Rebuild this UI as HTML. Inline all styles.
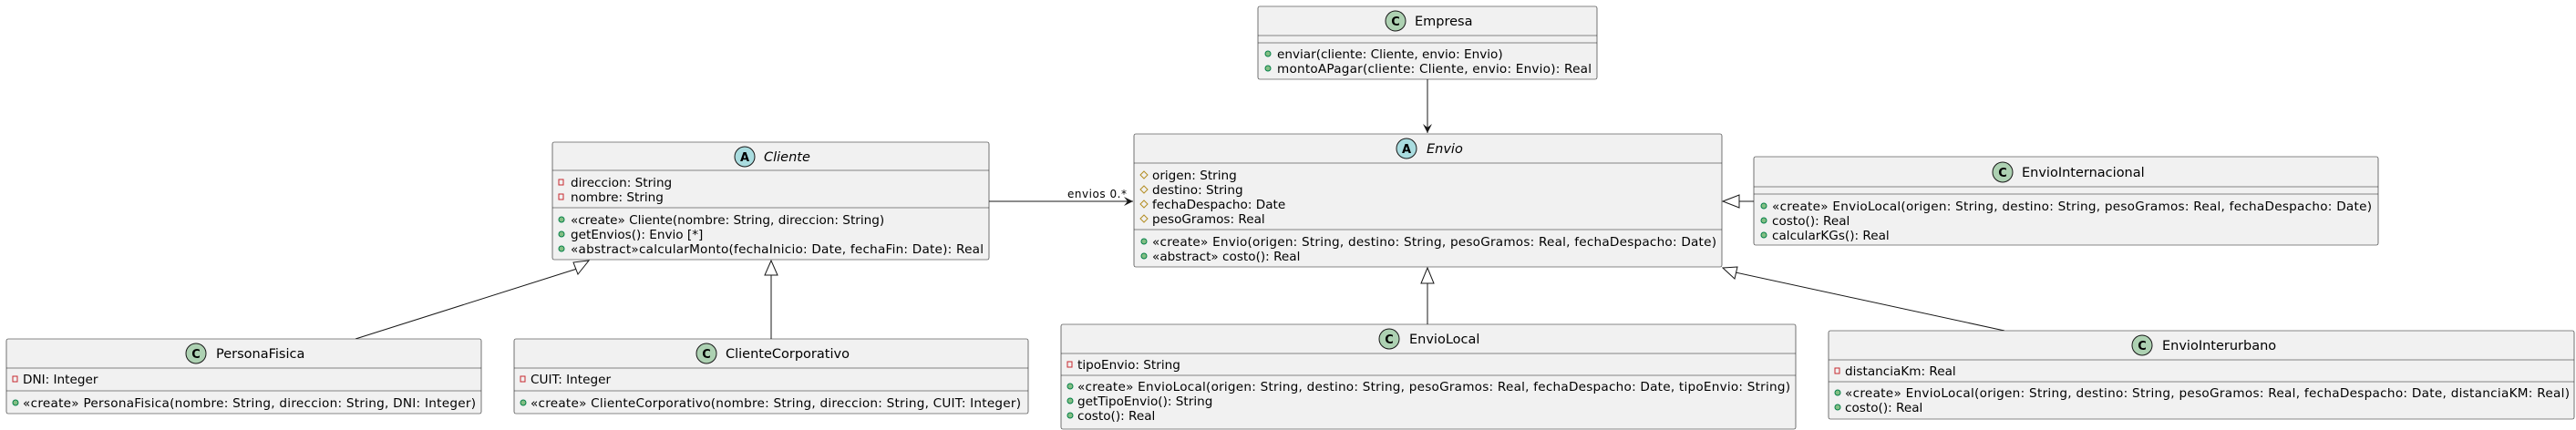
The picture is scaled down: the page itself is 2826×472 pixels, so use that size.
<!DOCTYPE html>
<html><head><meta charset="utf-8"><style>
html,body{margin:0;padding:0;background:#fff;}
svg{display:block;}
text{font-family:"DejaVu Sans","Liberation Sans",sans-serif;font-size:13.6px;fill:#000;}
.t{font-size:14.5px;}
.b{fill:#F1F1F1;stroke:#181818;stroke-width:0.6;}
.s{stroke:#181818;stroke-width:0.6;}
.l{stroke:#181818;stroke-width:1;fill:none;}
.pub{fill:#84BE84;stroke:#038048;stroke-width:1;}
.pri{fill:none;stroke:#C82930;stroke-width:1;}
.pro{fill:none;stroke:#B38D22;stroke-width:1;}
.cc{fill:#ADD1B2;stroke:#181818;stroke-width:1;}
.ca{fill:#A9DCDF;stroke:#181818;stroke-width:1;}
.g{font-weight:bold;font-size:13px;}
</style></head><body>
<svg width="2826" height="472" viewBox="0 0 2826 472" xmlns="http://www.w3.org/2000/svg">
<!-- connectors -->
<line class="l" x1="1566" y1="87" x2="1566" y2="146"/>
<polygon points="1561,136 1566,146 1571,136 1566,140" fill="#181818"/>
<line class="l" x1="1085" y1="221" x2="1243" y2="221"/>
<polygon points="1233,216 1243,221 1233,226 1237,221" fill="#181818"/>
<text x="1171" y="217" style="font-size:12px" textLength="65">envios 0.*</text>
<line class="l" x1="1900" y1="221" x2="1924" y2="221"/>
<polygon points="1890,221 1908,214 1908,228" fill="#fff" stroke="#181818"/>
<line class="l" x1="1566" y1="311" x2="1566" y2="356"/>
<polygon points="1566,294 1559,311 1573,311" fill="#fff" stroke="#181818"/>
<line class="l" x1="1904" y1="299" x2="2199" y2="363"/>
<polygon points="1890,294 1906,293 1903,306" fill="#fff" stroke="#181818"/>
<line class="l" x1="846" y1="302" x2="846" y2="372"/>
<polygon points="846,286 839,302 853,302" fill="#fff" stroke="#181818"/>
<line class="l" x1="633" y1="295" x2="390" y2="372"/>
<polygon points="646,286 629,288 634,301" fill="#fff" stroke="#181818"/>

<!-- Empresa -->
<rect class="b" x="1380" y="7" width="372" height="80" rx="2"/>
<line class="s" x1="1380" y1="39" x2="1752" y2="39"/><line class="s" x1="1380" y1="47" x2="1752" y2="47"/>
<circle class="cc" cx="1531" cy="23" r="11"/><text x="1531" y="28" text-anchor="middle" class="g">C</text>
<text class="t" x="1552" y="28">Empresa</text>
<circle class="pub" cx="1391" cy="59" r="3"/><text x="1401" y="64">enviar(cliente: Cliente, envio: Envio)</text>
<circle class="pub" cx="1391" cy="75" r="3"/><text x="1401" y="80" textLength="345">montoAPagar(cliente: Cliente, envio: Envio): Real</text>

<!-- Envio -->
<rect class="b" x="1244" y="147" width="645" height="146" rx="2"/>
<line class="s" x1="1244" y1="179" x2="1889" y2="179"/><line class="s" x1="1244" y1="252" x2="1889" y2="252"/>
<circle class="ca" cx="1543" cy="163" r="11"/><text x="1543" y="168" text-anchor="middle" class="g">A</text>
<text class="t" x="1565" y="168" font-style="italic">Envio</text>
<polygon class="pro" points="1255,188 1259,192 1255,196 1251,192"/><text x="1264" y="197">origen: String</text>
<polygon class="pro" points="1255,204 1259,208 1255,212 1251,208"/><text x="1264" y="213">destino: String</text>
<polygon class="pro" points="1255,220 1259,224 1255,228 1251,224"/><text x="1264" y="229">fechaDespacho: Date</text>
<polygon class="pro" points="1255,236 1259,240 1255,244 1251,240"/><text x="1264" y="245">pesoGramos: Real</text>
<circle class="pub" cx="1255" cy="265" r="3"/><text x="1264" y="270" textLength="619">«create» Envio(origen: String, destino: String, pesoGramos: Real, fechaDespacho: Date)</text>
<circle class="pub" cx="1255" cy="281" r="3"/><text x="1264" y="286">«abstract» costo(): Real</text>

<!-- EnvioInternacional -->
<rect class="b" x="1924" y="172" width="685" height="97" rx="2"/>
<line class="s" x1="1924" y1="205" x2="2609" y2="205"/><line class="s" x1="1924" y1="213" x2="2609" y2="213"/>
<circle class="cc" cx="2197" cy="189" r="11"/><text x="2197" y="194" text-anchor="middle" class="g">C</text>
<text class="t" x="2218" y="194">EnvioInternacional</text>
<circle class="pub" cx="1935" cy="226" r="3"/><text x="1944" y="231" textLength="658">«create» EnvioLocal(origen: String, destino: String, pesoGramos: Real, fechaDespacho: Date)</text>
<circle class="pub" cx="1935" cy="242" r="3"/><text x="1944" y="247">costo(): Real</text>
<circle class="pub" cx="1935" cy="258" r="3"/><text x="1944" y="263">calcularKGs(): Real</text>

<!-- Cliente -->
<rect class="b" x="606" y="156" width="479" height="129" rx="2"/>
<line class="s" x1="606" y1="187" x2="1085" y2="187"/><line class="s" x1="606" y1="228" x2="1085" y2="228"/>
<circle class="ca" cx="817" cy="172" r="11"/><text x="817" y="177" text-anchor="middle" class="g">A</text>
<text class="t" x="838" y="177" font-style="italic">Cliente</text>
<rect class="pri" x="613" y="197" width="5" height="6"/><text x="626" y="205">direccion: String</text>
<rect class="pri" x="613" y="213" width="5" height="6"/><text x="626" y="221">nombre: String</text>
<circle class="pub" cx="616" cy="241" r="3"/><text x="626" y="246">«create» Cliente(nombre: String, direccion: String)</text>
<circle class="pub" cx="616" cy="257" r="3"/><text x="626" y="262">getEnvios(): Envio [*]</text>
<circle class="pub" cx="616" cy="273" r="3"/><text x="626" y="278" textLength="453">«abstract»calcularMonto(fechaInicio: Date, fechaFin: Date): Real</text>

<!-- PersonaFisica -->
<rect class="b" x="7" y="372" width="521" height="82" rx="2"/>
<line class="s" x1="7" y1="404" x2="528" y2="404"/><line class="s" x1="7" y1="429" x2="528" y2="429"/>
<circle class="cc" cx="215" cy="388" r="11"/><text x="215" y="393" text-anchor="middle" class="g">C</text>
<text class="t" x="237" y="393">PersonaFisica</text>
<rect class="pri" x="14" y="413" width="5" height="6"/><text x="25" y="421">DNI: Integer</text>
<circle class="pub" cx="17" cy="442" r="3"/><text x="25" y="447" textLength="497">«create» PersonaFisica(nombre: String, direccion: String, DNI: Integer)</text>

<!-- ClienteCorporativo -->
<rect class="b" x="564" y="372" width="564" height="82" rx="2"/>
<line class="s" x1="564" y1="404" x2="1128" y2="404"/><line class="s" x1="564" y1="429" x2="1128" y2="429"/>
<circle class="cc" cx="775" cy="388" r="11"/><text x="775" y="393" text-anchor="middle" class="g">C</text>
<text class="t" x="796" y="393">ClienteCorporativo</text>
<rect class="pri" x="571" y="413" width="5" height="6"/><text x="582" y="421">CUIT: Integer</text>
<circle class="pub" cx="574" cy="442" r="3"/><text x="582" y="447" textLength="538">«create» ClienteCorporativo(nombre: String, direccion: String, CUIT: Integer)</text>

<!-- EnvioLocal -->
<rect class="b" x="1164" y="356" width="806" height="115" rx="2"/>
<line class="s" x1="1164" y1="388" x2="1970" y2="388"/><line class="s" x1="1164" y1="412" x2="1970" y2="412"/>
<circle class="cc" cx="1524" cy="372" r="11"/><text x="1524" y="377" text-anchor="middle" class="g">C</text>
<text class="t" x="1546" y="377">EnvioLocal</text>
<rect class="pri" x="1171" y="397" width="5" height="6"/><text x="1182" y="405">tipoEnvio: String</text>
<circle class="pub" cx="1174" cy="424" r="3"/><text x="1182" y="429" textLength="782">«create» EnvioLocal(origen: String, destino: String, pesoGramos: Real, fechaDespacho: Date, tipoEnvio: String)</text>
<circle class="pub" cx="1174" cy="440" r="3"/><text x="1182" y="445">getTipoEnvio(): String</text>
<circle class="pub" cx="1174" cy="456" r="3"/><text x="1182" y="461">costo(): Real</text>

<!-- EnvioInterurbano -->
<rect class="b" x="2006" y="363" width="818" height="97" rx="2"/>
<line class="s" x1="2006" y1="395" x2="2824" y2="395"/><line class="s" x1="2006" y1="419" x2="2824" y2="419"/>
<circle class="cc" cx="2350" cy="379" r="11"/><text x="2350" y="384" text-anchor="middle" class="g">C</text>
<text class="t" x="2372" y="384">EnvioInterurbano</text>
<rect class="pri" x="2013" y="404" width="5" height="6"/><text x="2024" y="412">distanciaKm: Real</text>
<circle class="pub" cx="2016" cy="431" r="3"/><text x="2024" y="436" textLength="795">«create» EnvioLocal(origen: String, destino: String, pesoGramos: Real, fechaDespacho: Date, distanciaKM: Real)</text>
<circle class="pub" cx="2016" cy="447" r="3"/><text x="2024" y="452">costo(): Real</text>
</svg>
</body></html>
